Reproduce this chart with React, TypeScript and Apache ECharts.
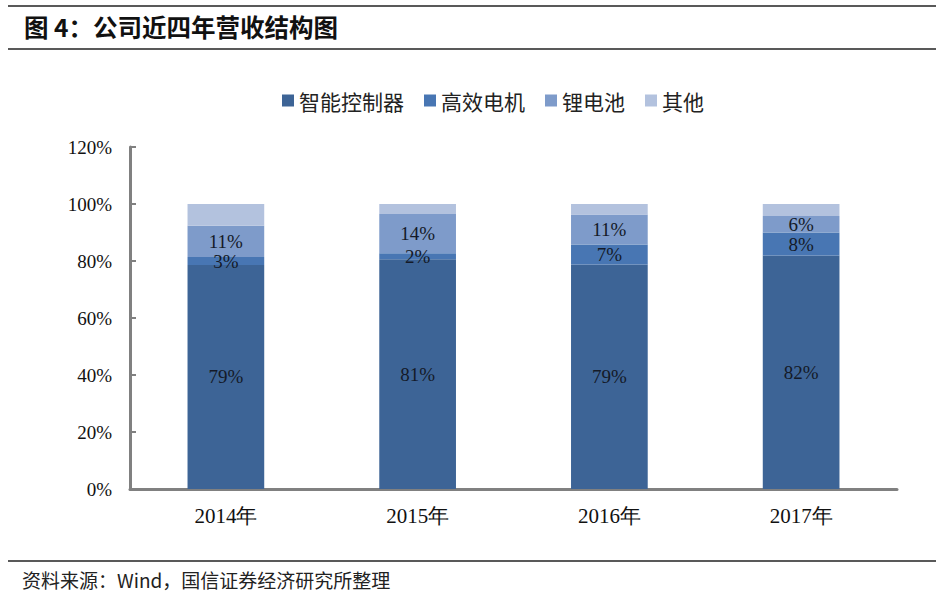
import React, { useEffect, useRef } from "react";
import * as echarts from "echarts";

const years = ["2014年", "2015年", "2016年", "2017年"];
const controller = [78.6, 80.6, 78.8, 81.9];
const motor = [2.8, 2.1, 7.0, 8.1];
const battery = [11.0, 13.8, 10.5, 5.8];
const others = [7.6, 3.5, 3.7, 4.2];
const yTicks = [0, 20, 40, 60, 80, 100, 120];

const serif = "'Liberation Serif', 'DejaVu Serif', serif";
const cjk = "'Noto Sans CJK SC', sans-serif";

const App: React.FC = () => {
  const chartRef = useRef<HTMLDivElement>(null);

  useEffect(() => {
    const chart = echarts.init(chartRef.current!, undefined, { renderer: "svg" });

    const label = {
      show: true,
      position: "inside" as const,
      color: "#141a28",
      fontFamily: serif,
      fontSize: 19,
      lineHeight: 18,
      formatter: (p: any) => `${Math.round(p.value)}%`
    };

    const mk = (name: string, data: number[], color: string, showLabel = true) => ({
      name,
      type: "bar" as const,
      stack: "total",
      barWidth: "40%",
      data,
      itemStyle: { color },
      label: showLabel ? label : { show: false }
    });

    chart.setOption({
      animation: false,
      backgroundColor: "#ffffff",
      legend: {
        left: 277,
        top: 85,
        itemWidth: 12,
        itemHeight: 12,
        itemGap: 20,
        icon: "rect",
        textStyle: { fontFamily: cjk, fontSize: 21, color: "#222" },
        data: ["智能控制器", "高效电机", "锂电池", "其他"]
      },
      grid: { left: 130, right: 39, top: 147, bottom: 115 },
      xAxis: {
        type: "category",
        data: years,
        axisLine: { lineStyle: { color: "#808080", width: 3 } },
        axisTick: { inside: true, length: 6, lineStyle: { color: "#808080", width: 2 } },
        axisLabel: { fontFamily: serif, fontSize: 21, color: "#111", margin: 16 }
      },
      yAxis: {
        type: "value",
        min: 0,
        max: yTicks[yTicks.length - 1],
        interval: yTicks[1] - yTicks[0],
        splitLine: { show: false },
        axisLine: { show: true, lineStyle: { color: "#808080", width: 3 } },
        axisTick: { show: true, inside: true, length: 6, lineStyle: { color: "#808080", width: 2 } },
        axisLabel: { formatter: "{value}%", fontFamily: serif, fontSize: 19, color: "#111", margin: 18 }
      },
      series: [
        mk("智能控制器", controller, "#3d6496"),
        mk("高效电机", motor, "#4876b3"),
        mk("锂电池", battery, "#7e9bca"),
        mk("其他", others, "#b3c2de", false)
      ],
      graphic: [
        { type: "line", shape: { x1: 8, y1: 6, x2: 936, y2: 6 }, style: { stroke: "#222", lineWidth: 1.5 } },
        {
          type: "text",
          left: 24,
          top: 14,
          style: { text: "图 4：公司近四年营收结构图", font: `bold 24.5px ${cjk}`, fill: "#111" }
        },
        { type: "line", shape: { x1: 8, y1: 49, x2: 936, y2: 49 }, style: { stroke: "#222", lineWidth: 1.5 } },
        { type: "line", shape: { x1: 8, y1: 561, x2: 936, y2: 561 }, style: { stroke: "#222", lineWidth: 1.5 } },
        {
          type: "text",
          left: 22,
          top: 570,
          style: { text: "资料来源：Wind，国信证券经济研究所整理", font: `19px ${cjk}`, fill: "#222" }
        }
      ]
    });

    return () => chart.dispose();
  }, []);

  return (
    <div
      ref={chartRef}
      style={{ position: "absolute", left: 0, top: 0, width: "936px", height: "604px" }}
    />
  );
};

export default App;
